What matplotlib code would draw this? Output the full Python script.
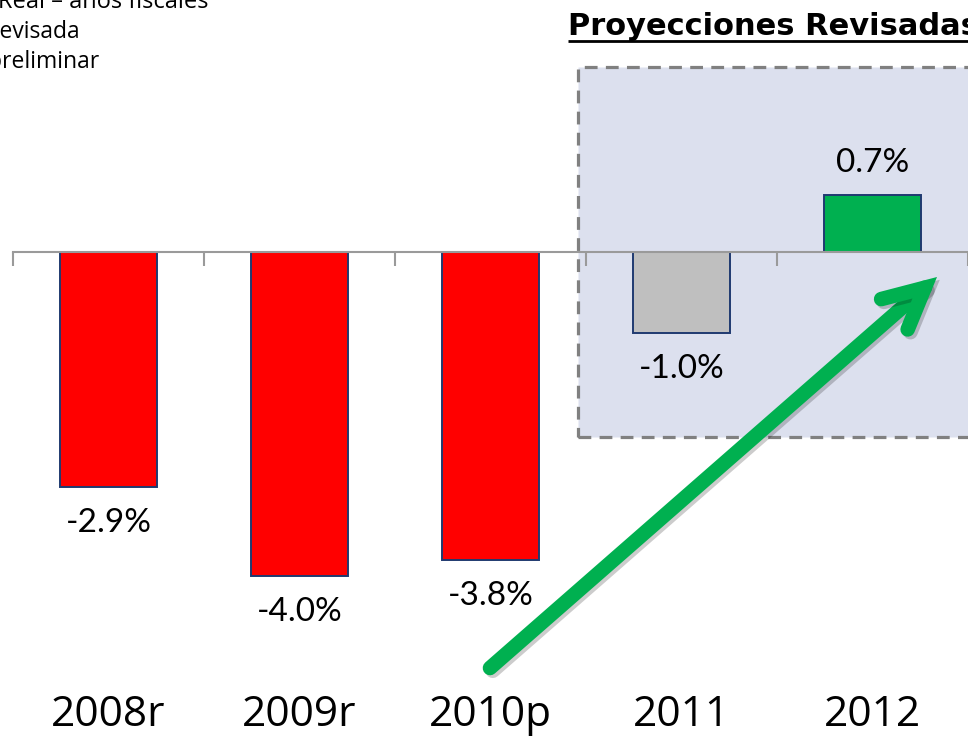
import matplotlib
matplotlib.use("Agg")
import matplotlib.pyplot as plt
import matplotlib.patheffects as pe
from matplotlib.patches import Rectangle, FancyArrowPatch

# data
years = ["2008r", "2009r", "2010p", "2011", "2012"]
growth = [-2.9, -4.0, -3.8, -1.0, 0.7]
bar_colors = ["#FF0000", "#FF0000", "#FF0000", "#BFBFBF", "#00B050"]
labels = ["-2.9%", "-4.0%", "-3.8%", "-1.0%", "0.7%"]

W, H = 968, 743
fig = plt.figure(figsize=(W / 100, H / 100), dpi=100)
ax = fig.add_axes([13 / W, 0, 955 / W, 1])

# 81 px per percentage point, zero line at y=252 px
ppu = 81.0
ax.set_xlim(-0.5, 4.5)
ax.set_ylim(-(H - 252) / ppu, 252 / ppu)

x = list(range(len(years)))
ax.bar(x, growth, width=0.513, color=bar_colors, edgecolor="#1F3A70",
       linewidth=1.4, zorder=3)

# shaded projections box
box = Rectangle((2.458, -185 / ppu), 3.0, 370 / ppu, facecolor="#DCE0EE",
                edgecolor="#808080", linewidth=2.3, linestyle=(0, (4, 2.6)),
                zorder=1)
ax.add_patch(box)

# axis at zero with ticks between categories
for s in ["left", "right", "top"]:
    ax.spines[s].set_visible(False)
ax.spines["bottom"].set_position(("data", 0))
ax.spines["bottom"].set_color("#9A9A9A")
ax.spines["bottom"].set_linewidth(1.5)
ax.spines["bottom"].set_zorder(4)
ax.set_yticks([])
ax.set_xticks(x)
ax.set_xticklabels([])
ax.tick_params(axis="x", which="major", length=0)
ax.set_xticks([i - 0.5 for i in range(len(years) + 1)], minor=True)
ax.tick_params(axis="x", which="minor", direction="out", length=10,
               width=1.5, color="#9A9A9A")

# value labels
for xi, v, lab in zip(x, growth, labels):
    off = -26 if v < 0 else 23
    ax.annotate(lab, (xi, v), xytext=(0, off), textcoords="offset points",
                ha="center", va="center", fontsize=24, family="Lato",
                color="black", zorder=5)

# year labels
for xi, yr in zip(x, years):
    ax.text(xi, -(715 - 252) / ppu, yr, ha="center", va="center",
            fontsize=30.5, family="Open Sans", color="black")

# title and underline
ax.text(2.406, (252 - 35) / ppu, "Proyecciones Revisadas", ha="left",
        va="baseline", fontsize=22, fontweight="bold", family="DejaVu Sans")
ax.plot([2.406, 4.6], [(252 - 41) / ppu] * 2, color="black", lw=2,
        solid_capstyle="butt", clip_on=True)

# notes top-left (cut at the edge, as in the original)
fig.text(-2 / W, 1 - 2 / H, "Real – años fiscales", ha="left", va="center",
         fontsize=17, family="Open Sans")
fig.text(-10 / W, 1 - 32 / H, "revisada", ha="left", va="center",
         fontsize=16.5, family="Open Sans")
fig.text(-12 / W, 1 - 62 / H, "preliminar", ha="left", va="center",
         fontsize=16.5, family="Open Sans")

# green arrow
arrow = FancyArrowPatch((490, H - 668), (937, H - 277),
                        transform=None,
                        arrowstyle="->,head_length=2.9,head_width=1.45",
                        mutation_scale=10, shrinkA=0, shrinkB=0,
                        color="#00B050", linewidth=10.5,
                        capstyle="round", joinstyle="miter", zorder=6,
                        path_effects=[pe.SimpleLineShadow(offset=(2, -2),
                                                          shadow_color="k",
                                                          alpha=0.2),
                                      pe.Normal()])
fig.patches.append(arrow)

fig.savefig("out.png", dpi=100)
